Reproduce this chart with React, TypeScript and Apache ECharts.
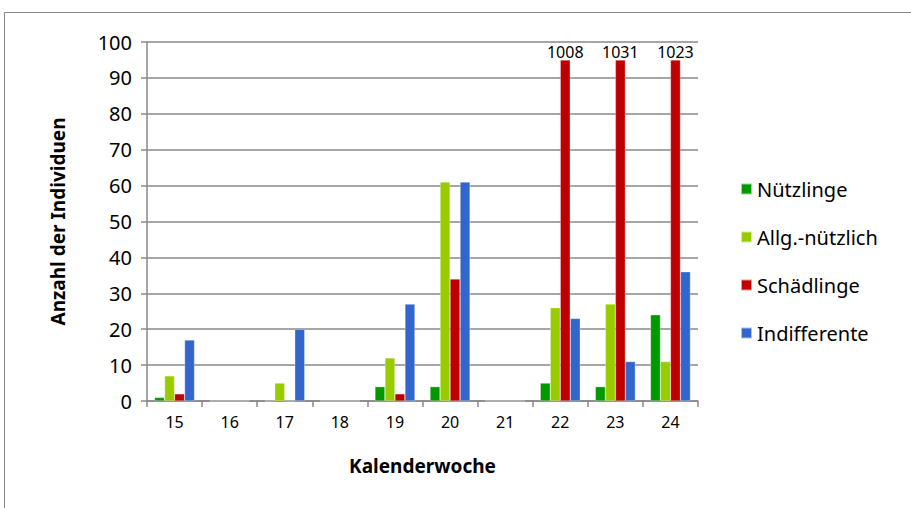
import React, { useEffect, useRef } from "react";
import * as echarts from "echarts";

const weeks = ["15", "16", "17", "18", "19", "20", "21", "22", "23", "24"];
const nuetzlinge = [1, 0, 0, 0, 4, 4, 0, 5, 4, 24];
const allgNuetzlich = [7, 0, 5, 0, 12, 61, 0, 26, 27, 11];
const schaedlinge = [2, 0, 0, 0, 2, 34, 0, 1008, 1031, 1023];
const indifferente = [17, 0, 20, 0, 27, 61, 0, 23, 11, 36];
const seriesNames = ["Nützlinge", "Allg.-nützlich", "Schädlinge", "Indifferente"];
const colors = ["#009900", "#99CC00", "#C00000", "#3366CC"];
const BREAK_AT = 95;

const FONT = "'Noto Sans', 'Open Sans', sans-serif";

export default function App() {
  const ref = useRef<HTMLDivElement>(null);
  useEffect(() => {
    if (!ref.current) return;
    const chart = echarts.init(ref.current, undefined, { renderer: "svg" });
    const all = [nuetzlinge, allgNuetzlich, schaedlinge, indifferente];
    const series = all.map((arr, i) => ({
      name: seriesNames[i],
      type: "bar" as const,
      barWidth: 10,
      barGap: "0%",
      itemStyle: { color: colors[i], borderColor: "rgba(255,255,255,0.6)", borderWidth: 0.5 },
      data: arr.map((v) => ({
        value: Math.min(v, BREAK_AT),
        label: v > 100
          ? { show: true, position: "top", distance: 0, formatter: String(v), color: "#000", fontSize: 16, fontFamily: FONT }
          : { show: false },
      })),
    }));
    chart.setOption({
      animation: false,
      textStyle: { fontFamily: FONT },
      graphic: [
        {
          type: "rect",
          shape: { x: 4.5, y: 12.5, width: 1000, height: 1000 },
          style: { fill: "none", stroke: "#888", lineWidth: 1 },
          silent: true,
        },
      ],
      grid: { left: 147, right: 213, top: 42, bottom: 107 },
      legend: {
        orient: "vertical",
        left: 735,
        top: 172,
        itemWidth: 11,
        itemHeight: 11,
        itemGap: 24,
        icon: "rect",
        textStyle: { fontSize: 20, lineHeight: 24, color: "#000", fontFamily: FONT },
        data: seriesNames,
      },
      xAxis: {
        type: "category",
        data: weeks,
        name: "Kalenderwoche",
        nameLocation: "middle",
        nameGap: 55,
        nameTextStyle: { fontSize: 19, fontWeight: "bold", color: "#000", fontFamily: FONT },
        axisLine: { lineStyle: { color: "#888", width: 1.5 } },
        axisTick: { show: true, length: 6, lineStyle: { color: "#888", width: 1.5 } },
        axisLabel: { fontSize: 16, color: "#000", margin: 13, fontFamily: FONT },
      },
      yAxis: {
        type: "value",
        min: 0,
        max: 100,
        interval: 10,
        name: "Anzahl der Individuen",
        nameLocation: "middle",
        nameGap: 80,
        nameTextStyle: { fontSize: 19, fontWeight: "bold", color: "#000", fontFamily: FONT },
        axisLine: { show: true, lineStyle: { color: "#888", width: 1.5 } },
        axisTick: { show: true, length: 6, lineStyle: { color: "#888", width: 1.5 } },
        axisLabel: { fontSize: 20, color: "#000", margin: 15, fontFamily: FONT },
        splitLine: { show: true, lineStyle: { color: "#888", width: 1.5 } },
      },
      series,
    });
    return () => chart.dispose();
  }, []);
  return <div ref={ref} style={{ position: "absolute", left: 0, top: 0, width: 911, height: 508 }} />;
}
